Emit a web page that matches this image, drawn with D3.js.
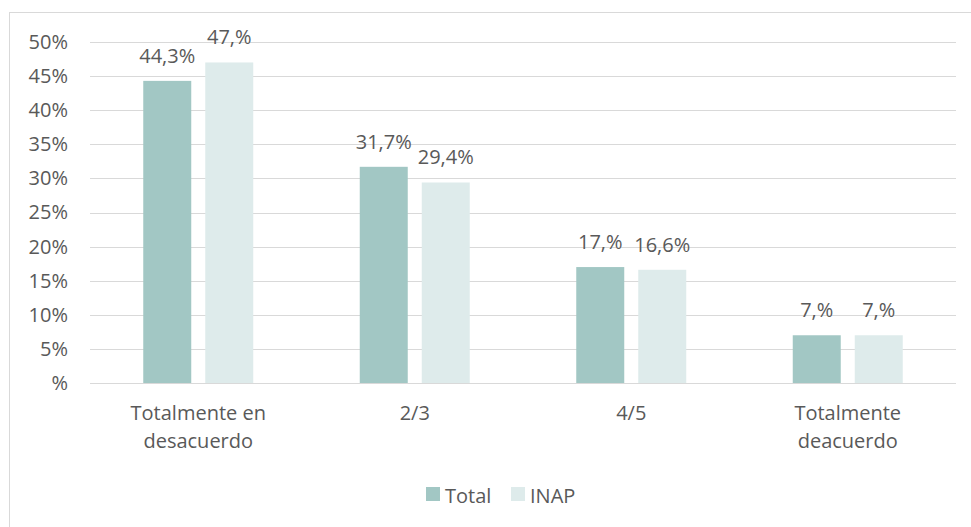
<!DOCTYPE html>
<html>
<head>
<meta charset="utf-8" />
<title>chart</title>
<script src="https://d3js.org/d3.v7.min.js"></script>
<style>
  body { margin: 0; background: #fff; }
  text { font-family: "Open Sans", sans-serif; fill: #595959; }
</style>
</head>
<body>
<svg id="chart" width="971" height="527"></svg>
<script>
  // data
  var categories = [["Totalmente en", "desacuerdo"], ["2/3"], ["4/5"], ["Totalmente", "deacuerdo"]];
  var seriesNames = ["Total", "INAP"];
  var totalValues = [44.3, 31.7, 17.0, 7.0];
  var inapValues = [47.0, 29.4, 16.6, 7.0];
  var totalLabels = ["44,3%", "31,7%", "17,%", "7,%"];
  var inapLabels = ["47,%", "29,4%", "16,6%", "7,%"];
  var yTicks = [0, 5, 10, 15, 20, 25, 30, 35, 40, 45, 50];
  var yTickLabels = ["%", "5%", "10%", "15%", "20%", "25%", "30%", "35%", "40%", "45%", "50%"];
  var colors = ["#a2c7c4", "#deebeb"];
  var fs = "20px";

  var svg = d3.select("#chart");

  // chart frame (runs off the right and bottom edges)
  svg.append("rect")
    .attr("x", 9.5).attr("y", 12.5)
    .attr("width", 1000).attr("height", 600)
    .attr("fill", "none").attr("stroke", "#d9d9d9");

  var x0 = d3.scaleBand().domain(d3.range(categories.length)).range([90, 956]);
  var y = d3.scaleLinear().domain([0, 50]).range([383, 42]);

  // gridlines
  svg.append("g").selectAll("line").data(yTicks).enter().append("line")
    .attr("x1", 90).attr("x2", 956)
    .attr("y1", function(d) { return Math.round(y(d)) + 0.5; })
    .attr("y2", function(d) { return Math.round(y(d)) + 0.5; })
    .attr("stroke", "#d9d9d9").attr("stroke-width", 1);

  // y axis
  var yAxis = d3.axisLeft(y).tickValues(yTicks)
    .tickFormat(function(d, i) { return yTickLabels[i]; })
    .tickSize(0).tickPadding(0);
  var ya = svg.append("g").attr("transform", "translate(68,0)").call(yAxis);
  ya.select(".domain").remove();
  ya.selectAll("text").style("font-size", fs).style("fill", "#595959")
    .style("font-family", "'Open Sans', sans-serif");

  // bars
  var barW = 48, gap = 14;
  var series = [totalValues, inapValues];
  var labels = [totalLabels, inapLabels];
  series.forEach(function(vals, s) {
    var g = svg.append("g");
    g.selectAll("rect").data(vals).enter().append("rect")
      .attr("x", function(d, i) {
        var c = x0(i) + x0.bandwidth() / 2;
        return s === 0 ? c - gap / 2 - barW : c + gap / 2;
      })
      .attr("y", function(d) { return y(d); })
      .attr("width", barW)
      .attr("height", function(d) { return y(0) - y(d); })
      .attr("fill", colors[s]);
    g.selectAll("text").data(vals).enter().append("text")
      .attr("x", function(d, i) {
        var c = x0(i) + x0.bandwidth() / 2;
        return s === 0 ? c - gap / 2 - barW / 2 : c + gap / 2 + barW / 2;
      })
      .attr("y", function(d) { return y(d) - 18; })
      .attr("text-anchor", "middle")
      .style("font-size", fs)
      .text(function(d, i) { return labels[s][i]; });
  });

  // category labels
  var cl = svg.append("g");
  categories.forEach(function(lines, i) {
    var t = cl.append("text")
      .attr("x", x0(i) + x0.bandwidth() / 2)
      .attr("y", 420)
      .attr("text-anchor", "middle")
      .style("font-size", fs);
    lines.forEach(function(l, j) {
      t.append("tspan").attr("x", x0(i) + x0.bandwidth() / 2)
        .attr("dy", j === 0 ? 0 : 28).text(l);
    });
  });

  // legend
  var legend = svg.append("g");
  var lx = [426, 511];
  seriesNames.forEach(function(n, i) {
    legend.append("rect").attr("x", lx[i]).attr("y", 487)
      .attr("width", 14).attr("height", 14).attr("fill", colors[i]);
    legend.append("text").attr("x", lx[i] + 19).attr("y", 503)
      .style("font-size", fs).text(n);
  });
</script>
</body>
</html>
